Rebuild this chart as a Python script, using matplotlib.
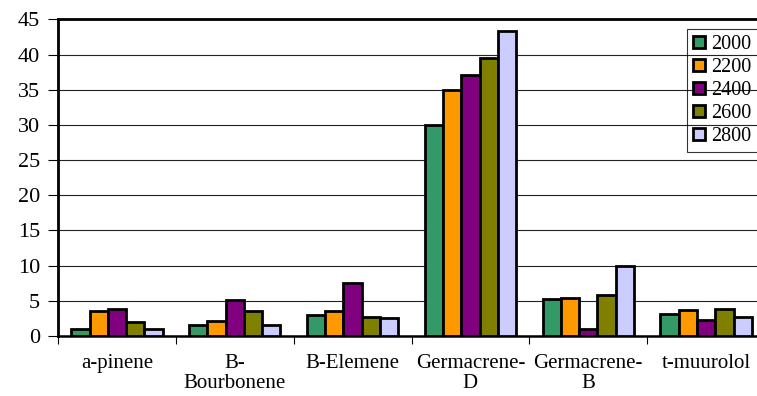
import matplotlib
matplotlib.use("Agg")
import matplotlib.pyplot as plt
import numpy as np

plt.rcParams.update({
    "font.family": "Liberation Serif",
    "font.size": 15,
})

compounds = ["a-pinene", "B-\nBourbonene", "B-Elemene",
             "Germacrene-\nD", "Germacrene-\nB", "t-muurolol"]
years = ["2000", "2200", "2400", "2600", "2800"]

v2000 = [1.0, 1.5, 3.0, 30.0, 5.2, 3.1]
v2200 = [3.6, 2.1, 3.5, 35.0, 5.45, 3.7]
v2400 = [3.9, 5.1, 7.5, 37.1, 1.0, 2.3]
v2600 = [2.0, 3.5, 2.7, 39.5, 5.9, 3.9]
v2800 = [1.0, 1.5, 2.5, 43.3, 10.0, 2.65]
series = [v2000, v2200, v2400, v2600, v2800]

colors = ["#339966", "#FF9900", "#800080", "#808000", "#CCCCFF"]

fig = plt.figure(figsize=(7.57, 3.96), dpi=100)
ax = fig.add_axes([0.0766, 0.1515, 0.934, 0.7993])

x = np.arange(len(compounds))
w = 0.155
for k, (vals, c, lab) in enumerate(zip(series, colors, years)):
    ax.bar(x + (k - 2) * w, vals, w, color=c, edgecolor="black",
           linewidth=2.0, label=lab, zorder=3)

ax.set_xlim(-0.5, len(compounds) - 0.5)
ax.set_ylim(0, 45)
ax.set_yticks(np.arange(0, 46, 5))
ax.yaxis.grid(True, color="#222222", linewidth=0.8, zorder=0)
ax.set_axisbelow(True)

# category boundaries get the tick marks, names sit between them
ax.set_xticks(np.arange(-0.5, len(compounds), 1.0))
ax.set_xticklabels([])
ax.set_xticks(x, minor=True)
ax.set_xticklabels(compounds, minor=True, linespacing=1.1)
ax.tick_params(axis="x", which="major", length=6, width=0.8, direction="out")
ax.tick_params(axis="x", which="minor", length=0, pad=13)
ax.tick_params(axis="y", length=7, width=0.8, pad=6, labelsize=16)

ax.spines["left"].set_linewidth(2)
ax.spines["top"].set_linewidth(2)
ax.spines["bottom"].set_linewidth(1.8)
ax.spines["right"].set_visible(False)

leg = ax.legend(loc="upper right", bbox_to_anchor=(0.9895, 0.97),
                frameon=True, fancybox=False, edgecolor="black",
                fontsize=14.5,
                handlelength=0.6, handleheight=0.6, handletextpad=0.3,
                labelspacing=0.2, borderpad=0.3, borderaxespad=0)
leg.get_frame().set_facecolor("none")
leg.get_frame().set_linewidth(0.8)

fig.savefig("out.png", dpi=100)
